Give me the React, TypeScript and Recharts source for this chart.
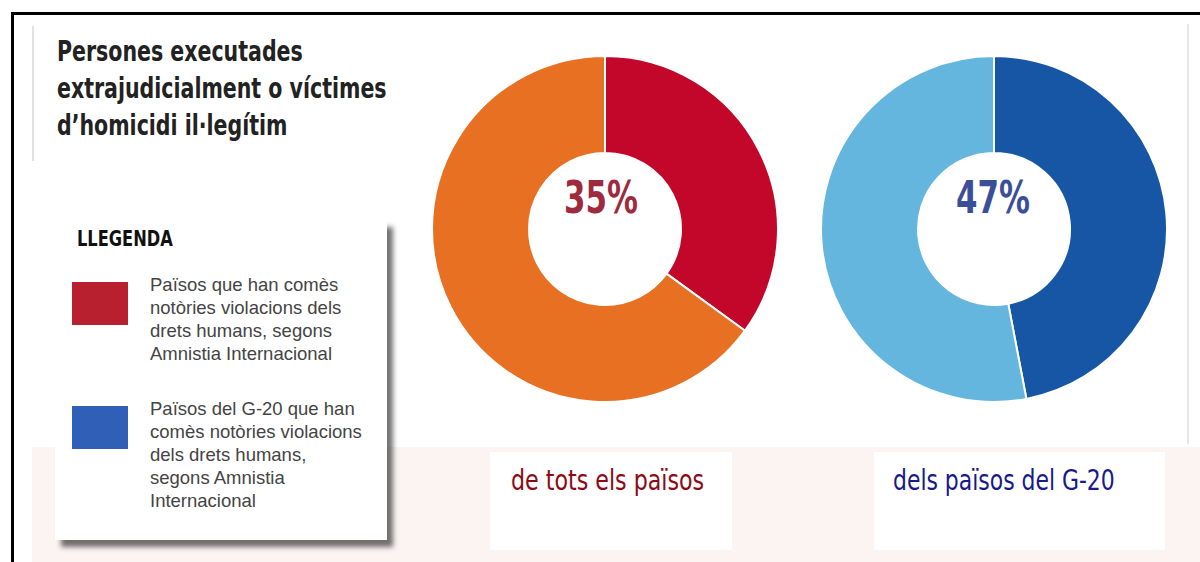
import React from "react";
import { PieChart, Pie, Cell } from "recharts";

// Shares of victims (percent)
const ALL_COUNTRIES = [
  { name: "Països amb notòries violacions", value: 35 },
  { name: "Resta de països", value: 65 },
];
const G20_COUNTRIES = [
  { name: "Països del G-20 amb notòries violacions", value: 47 },
  { name: "Resta del G-20", value: 53 },
];
const ALL_COLORS = ["#c3072b", "#e87022"];
const G20_COLORS = ["#1656a5", "#65b6de"];

const TITLE_LINES = ["Persones executades", "extrajudicialment o víctimes", "d’homicidi il·legítim"];
const LEGEND_ITEMS = [
  { color: "#b8202f", lines: ["Països que han comès", "notòries violacions dels", "drets humans, segons", "Amnistia Internacional"] },
  { color: "#2f5fb7", lines: ["Països del G-20 que han", "comès notòries violacions", "dels drets humans,", "segons Amnistia", "Internacional"] },
];
const BOTTOM_LABELS = ["de tots els països", "dels països del G-20"];

const narrow = '"DejaVu Sans Condensed", "DejaVu Sans", sans-serif';
const regular = '"Liberation Sans", Arial, sans-serif';

const squeeze = (sx: number): React.CSSProperties => ({
  transform: `scaleX(${sx})`,
  transformOrigin: "left top",
  whiteSpace: "nowrap",
});

export default function App() {
  const pct = (v: number) => `${v}%`;
  return (
    <div style={{ position: "absolute", left: 0, top: 0, width: 1200, height: 562, background: "#fff", overflow: "hidden" }}>
      {/* frame */}
      <div style={{ position: "absolute", left: 11, top: 12, right: 0, bottom: 0, borderTop: "3px solid #000", borderLeft: "3px solid #000" }} />
      {/* faint scan panels */}
      <div style={{ position: "absolute", left: 32, top: 447, width: 1168, height: 115, background: "#fbf4f2" }} />
      <div style={{ position: "absolute", left: 32, top: 26, width: 2, height: 135, background: "#e2e2e2" }} />
      <div style={{ position: "absolute", left: 1187, top: 24, width: 2, height: 420, background: "#e6e6e6" }} />
      <div style={{ position: "absolute", left: 490, top: 452, width: 242, height: 98, background: "#fff" }} />
      <div style={{ position: "absolute", left: 874, top: 452, width: 291, height: 98, background: "#fff" }} />

      {/* title */}
      <div style={{ position: "absolute", left: 57, top: 33, fontFamily: narrow, fontWeight: 700, fontSize: 28, lineHeight: "37px", color: "#222", ...squeeze(0.815) }}>
        {TITLE_LINES.map((l) => (
          <div key={l}>{l}</div>
        ))}
      </div>

      {/* legend */}
      <div style={{ position: "absolute", left: 55, top: 220, width: 332, height: 320, background: "#fff", boxShadow: "6px 7px 5px rgba(0,0,0,0.55)" }}>
        <div style={{ position: "absolute", left: 22, top: 6, fontFamily: narrow, fontWeight: 700, fontSize: 22, color: "#111", ...squeeze(0.82) }}>LLEGENDA</div>
        {LEGEND_ITEMS.map((item, i) => (
          <div key={i} style={{ position: "absolute", left: 17, top: 53 + i * 124 }}>
            <div style={{ position: "absolute", left: 0, top: 9, width: 56, height: 43, background: item.color }} />
            <div style={{ position: "absolute", left: 78, top: 0, width: 240, fontFamily: regular, fontSize: 18.5, lineHeight: "23px", color: "#444" }}>
              {item.lines.map((l) => (
                <div key={l} style={{ whiteSpace: "nowrap" }}>{l}</div>
              ))}
            </div>
          </div>
        ))}
      </div>

      {/* donuts */}
      <div style={{ position: "absolute", left: 0, top: 0 }}>
        <PieChart width={1200} height={460} margin={{ top: 0, right: 0, bottom: 0, left: 0 }}>
          <Pie
            data={ALL_COUNTRIES}
            dataKey="value"
            cx={605}
            cy={229}
            innerRadius={76}
            outerRadius={173}
            startAngle={90}
            endAngle={-270}
            stroke="#fff"
            strokeWidth={2}
            isAnimationActive={false}
          >
            {ALL_COUNTRIES.map((d, i) => (
              <Cell key={d.name} fill={ALL_COLORS[i]} />
            ))}
          </Pie>
          <Pie
            data={G20_COUNTRIES}
            dataKey="value"
            cx={994}
            cy={229}
            innerRadius={76}
            outerRadius={173}
            startAngle={90}
            endAngle={-270}
            stroke="#fff"
            strokeWidth={2}
            isAnimationActive={false}
          >
            {G20_COUNTRIES.map((d, i) => (
              <Cell key={d.name} fill={G20_COLORS[i]} />
            ))}
          </Pie>
        </PieChart>
      </div>

      {/* centre percentages */}
      <div style={{ position: "absolute", left: 601 - 60, top: 172, width: 120, textAlign: "center", fontFamily: narrow, fontWeight: 700, fontSize: 44, lineHeight: "52px", color: "#9e2a3e", transform: "scaleX(0.78)" }}>
        {pct(ALL_COUNTRIES[0].value)}
      </div>
      <div style={{ position: "absolute", left: 993 - 60, top: 172, width: 120, textAlign: "center", fontFamily: narrow, fontWeight: 700, fontSize: 44, lineHeight: "52px", color: "#3b4f98", transform: "scaleX(0.78)" }}>
        {pct(G20_COUNTRIES[0].value)}
      </div>

      {/* bottom captions */}
      <div style={{ position: "absolute", left: 511, top: 464, fontFamily: narrow, fontSize: 28, color: "#8c0a15", ...squeeze(0.88) }}>{BOTTOM_LABELS[0]}</div>
      <div style={{ position: "absolute", left: 893, top: 464, fontFamily: narrow, fontSize: 28, color: "#18198a", ...squeeze(0.87) }}>{BOTTOM_LABELS[1]}</div>
    </div>
  );
}
